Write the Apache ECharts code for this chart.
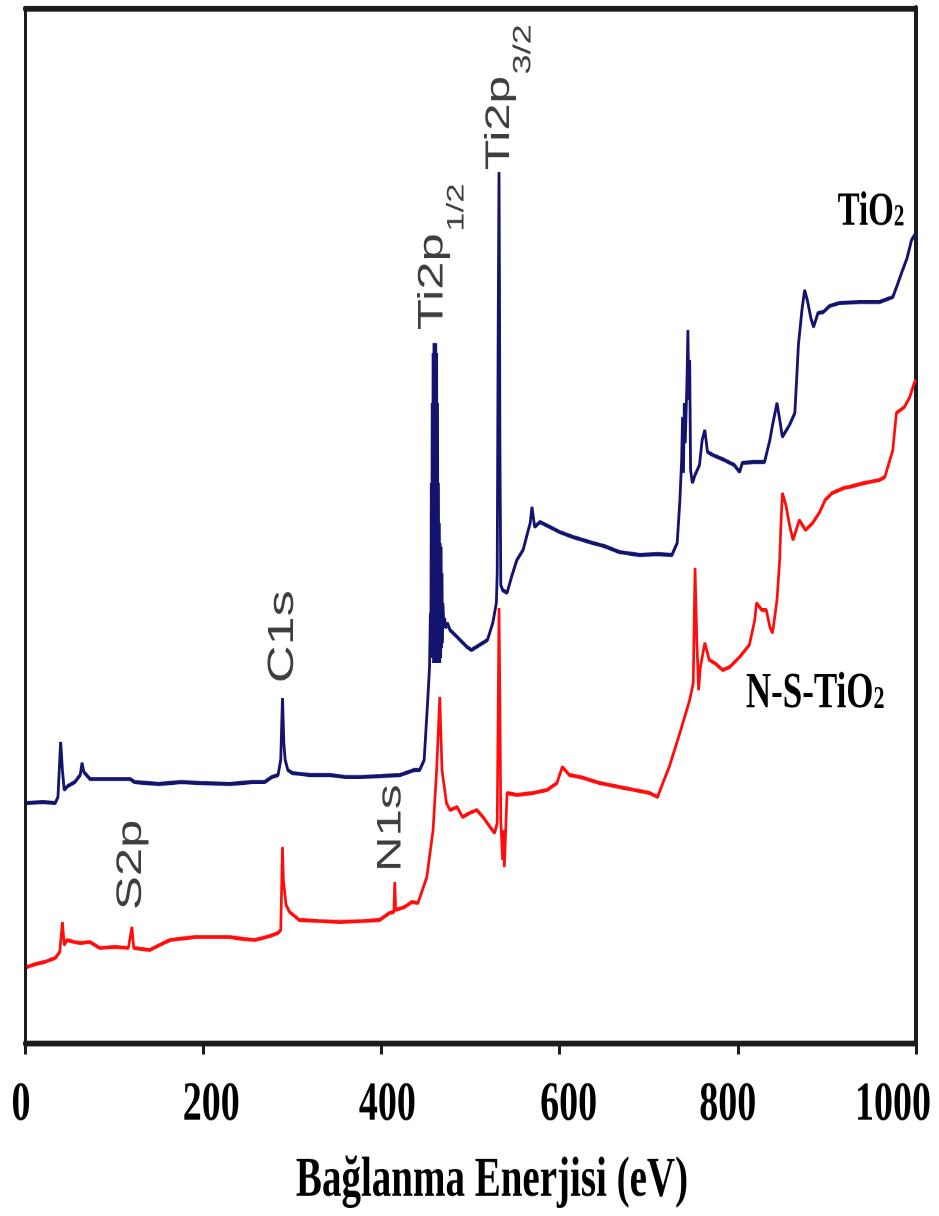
<!DOCTYPE html>
<html>
<head>
<meta charset="utf-8">
<title>XPS - TiO2 / N-S-TiO2</title>
<script src="https://cdn.jsdelivr.net/npm/echarts@6.0.0/dist/echarts.min.js"></script>
<style>
  html, body { margin: 0; padding: 0; background: #fff; overflow: hidden; }
  #wrap { width: 939px; height: 1216px; overflow: hidden; }
  /* the figure is drawn in a shorter frame and stretched vertically */
  #chart { width: 939px; height: 839px; transform: scaleY(1.44934); transform-origin: 0 0; }
</style>
</head>
<body>
<div id="wrap"><div id="chart"></div></div>
<script>
// Survey spectra: [binding energy (eV), intensity (a.u.)]
const tio2Spectrum = [
  [2,240],[20,241],[34,240],[37,246],[39,283],[40,301],[42,273],[44,253],[48,257],[56,261],[62,268],[64,280],[66,271],[73,264],
  [95,264],[118,264],[123,261],[150,259],[175,261],[196,260],[230,259],[255,261],[269,261],[277,266],[284,268],[287,283],
  [289,345],[290.5,300],[292,283],[295,273],[300,270],[320,268],[342,268],[360,266],[376,266],[400,267],[421,268],[437,273],
  [443,273],[448,283],[450,313],[452,343],[454,376],
  [455,430],[455.5,385],[456,560],[456.5,390],[457,640],[457.5,385],[458,690],[458.5,380],[459,700],[459.5,385],[460,698],
  [460.5,380],[461,700],[461.5,390],[462,690],[462.5,385],[463,640],[463.5,380],[464,560],[464.5,385],[465,520],[465.5,380],
  [466,500],[466.5,385],[467,496],[467.5,395],[468,470],[468.5,400],[469,440],[470,420],[471,425],[472,415],[474,420],
  [477,413],[485,406],[496,396],[501,393],[510,398],[519,403],[525,420],[529,440],[530,470],[531,700],[532,871],[532.5,760],
  [533,600],[534,458],[536,453],[541,450],[546,466],[552,483],[559,493],[564,510],[567,520],[569,536],[572,516],[578,521],
  [589,516],[600,511],[615,506],[637,500],[650,497],[667,491],[690,488],[710,489],[726,488],
  [732,500],[735,543],[737,583],[738,626],[739,570],[740,640],[741,600],[743,663],[744,713],[745,643],[746,683],[747,573],
  [749,560],[752,568],[757,578],[760,603],[763,613],[766,591],[772,588],[785,583],[796,578],[802,571],[805,580],[818,581],
  [830,581],[836,603],[839,618],[844,640],[848,618],[850,606],[858,618],[864,630],[866,663],[868,698],[872,733],[875,753],
  [878,743],[882,725],[885,716],[890,730],[896,731],[903,737],[914,740],[937,741],[959,741],[974,746],[979,758],[985,773],
  [990,785],[995,803],[1000,810]
];

const nsTio2Spectrum = [
  [2,76],[12,79],[22,81],[34,85],[39,91],[42,121],[44,98],[47,103],[55,101],[62,100],[73,101],[84,95],[101,96],[116,95],
  [120,116],[122,95],[140,93],[151,98],[163,103],[191,106],[230,106],[245,104],[258,103],[275,107],[284,110],[287,113],
  [289,196],[290,163],[293,138],[297,131],[308,123],[330,122],[353,121],[380,122],[398,123],[409,130],[414,131],[415,161],
  [416,133],[426,136],[434,141],[441,140],[451,166],[458,213],[462,273],[465.5,346],[468,273],[473,240],[477,233],[485,236],
  [491,226],[499,230],[507,233],[514,226],[522,216],[527,210],[530,220],[532,435],[533,343],[534,223],[536,183],[537,213],
  [538,176],[541,250],[552,248],[570,250],[586,253],[597,260],[603,276],[611,268],[623,266],[645,260],[667,256],[684,253],
  [701,250],[710,246],[715,258],[723,276],[735,310],[746,343],[750,360],[752,475],[754,403],[756,353],[758,376],[763,400],
  [768,383],[774,380],[783,373],[791,376],[802,386],[813,398],[819,423],[821,440],[827,433],[832,433],[836,416],[839,410],
  [844,443],[847,483],[848,510],[850,550],[854,538],[858,518],[862,503],[869,523],[876,513],[884,520],[892,531],[898,543],
  [906,550],[919,555],[925,556],[942,560],[959,563],[965,566],[969,578],[974,593],[978,630],[987,636],[993,646],[998,660],
  [1000,663]
];

// Axis ticks (eV)
const energyTicks = [0, 200, 400, 600, 800, 1000];

// Peak assignments: [name, subscript] and their binding energies (eV)
const peakLabels = [['S2p', ''], ['C1s', ''], ['N1s', ''], ['Ti2p', '1/2'], ['Ti2p', '3/2']];
const peakEnergies = [119.5, 289.4, 411, 457.6, 532.8];

// Sample names: [text, subscript]
const sampleNames = [['TiO', '2'], ['N-S-TiO', '2']];

const STRETCH = 1216 / 839;
const AXIS_COLOR = '#1c1c1c';
const SERIF = '"Liberation Serif", "Times New Roman", serif';
const SANS = '"Liberation Sans", Arial, sans-serif';

// small horizontal nudges for the tick numbers (px)
const tickShift = { 0: -4, 200: 8, 400: 6, 600: 9, 800: -10, 1000: -23 };
const tickRich = {};
energyTicks.forEach(function (t, i) {
  const d = tickShift[t] || 0;
  tickRich['t' + i] = {
    fontFamily: SERIF, fontWeight: 'bold', fontSize: 38, color: '#000',
    padding: d >= 0 ? [0, 0, 0, 2 * d] : [0, -2 * d, 0, 0]
  };
});

const chart = echarts.init(document.getElementById('chart'), null, { renderer: 'canvas', devicePixelRatio: 2 });

const option = {
  animation: false,
  backgroundColor: '#ffffff',
  grid: { left: 25, right: 23, top: 8 / STRETCH, bottom: 839 - 1043 / STRETCH, containLabel: false, outerBoundsMode: 'none' },
  xAxis: [{
    type: 'value', min: 0, max: 1000, interval: 200,
    axisLine: { show: true, onZero: false, lineStyle: { color: AXIS_COLOR, width: 4 } },
    axisTick: { show: true, inside: false, length: 8, lineStyle: { color: AXIS_COLOR, width: 3 } },
    splitLine: { show: false },
    axisLabel: {
      margin: 24,
      formatter: function (v) {
        const i = energyTicks.indexOf(v);
        return i >= 0 ? '{t' + i + '|' + v + '}' : '';
      },
      rich: tickRich
    },
    name: 'Bağlanma Enerjisi (eV)', nameLocation: 'middle', nameGap: 76,
    nameTextStyle: { fontFamily: SERIF, fontWeight: 'bold', fontSize: 39, color: '#000', padding: [0, 0, 0, 43] }
  }, {
    type: 'value', position: 'top', min: 0, max: 1000,
    axisLine: { show: true, onZero: false, lineStyle: { color: AXIS_COLOR, width: 4 } },
    axisTick: { show: false }, axisLabel: { show: false }, splitLine: { show: false }
  }],
  yAxis: [{
    type: 'value', min: 0, max: 1035,
    axisLine: { show: true, onZero: false, lineStyle: { color: AXIS_COLOR, width: 3 } },
    axisTick: { show: false }, axisLabel: { show: false }, splitLine: { show: false }
  }, {
    type: 'value', position: 'right', min: 0, max: 1035,
    axisLine: { show: true, onZero: false, lineStyle: { color: AXIS_COLOR, width: 4 } },
    axisTick: { show: false }, axisLabel: { show: false }, splitLine: { show: false }
  }],
  series: [{
    name: 'N-S-TiO2', type: 'line', data: nsTio2Spectrum,
    showSymbol: false, symbol: 'none', smooth: false,
    lineStyle: { color: '#ff0d0d', width: 2.7 }, z: 2
  }, {
    name: 'TiO2', type: 'line', data: tio2Spectrum,
    showSymbol: false, symbol: 'none', smooth: false,
    lineStyle: { color: '#14146f', width: 2.8 }, z: 3
  }]
};

chart.setOption(option);

// ---- annotations ----
const measureCtx = document.createElement('canvas').getContext('2d');
function textWidth(str, font) { measureCtx.font = font; return measureCtx.measureText(str).width; }
function toPx(e, v) { return chart.convertToPixel({ xAxisIndex: 0, yAxisIndex: 0 }, [e, v]); }

// rotated peak labels: start level (a.u.) and font size
const peakLayout = [
  { level: 133, size: 35, subSize: 24 },
  { level: 360, size: 36, subSize: 24 },
  { level: 171, size: 34, subSize: 24 },
  { level: 713, size: 35, subSize: 24 },
  { level: 873, size: 34, subSize: 25 }
];
const PEAK_COLOR = '#3e3e3e';

const graphics = [];
peakLabels.forEach(function (lab, i) {
  const lay = peakLayout[i];
  const p = toPx(peakEnergies[i], lay.level);
  const mainFont = lay.size + 'px ' + SANS;
  const subFont = lay.subSize + 'px ' + SANS;
  const children = [{
    type: 'text', x: 0, y: 0,
    style: { text: lab[0], font: mainFont, fill: PEAK_COLOR, textAlign: 'left', textVerticalAlign: 'middle' }
  }];
  if (lab[1]) {
    children.push({
      type: 'text', x: textWidth(lab[0], mainFont) + 1, y: 24,
      style: { text: lab[1], font: subFont, fill: PEAK_COLOR, textAlign: 'left', textVerticalAlign: 'middle' }
    });
  }
  graphics.push({ type: 'group', x: p[0], y: p[1], rotation: Math.PI / 2, children: children, z: 10 });
});

// sample names next to the curves
const nameLayout = [
  { energy: 912, level: 831, size: 33, subSize: 21 },
  { energy: 809, level: 349, size: 35, subSize: 22 }
];
sampleNames.forEach(function (nm, i) {
  const lay = nameLayout[i];
  const p = toPx(lay.energy, lay.level);
  const mainFont = 'bold ' + lay.size + 'px ' + SERIF;
  const subFont = 'bold ' + lay.subSize + 'px ' + SERIF;
  graphics.push({
    type: 'group', x: p[0], y: p[1], z: 10,
    children: [{
      type: 'text', x: 0, y: 0,
      style: { text: nm[0], font: mainFont, fill: '#000', textAlign: 'left', textVerticalAlign: 'middle' }
    }, {
      type: 'text', x: textWidth(nm[0], mainFont), y: 3.8,
      style: { text: nm[1], font: subFont, fill: '#000', textAlign: 'left', textVerticalAlign: 'middle' }
    }]
  });
});

chart.setOption({ graphic: graphics });
</script>
</body>
</html>
